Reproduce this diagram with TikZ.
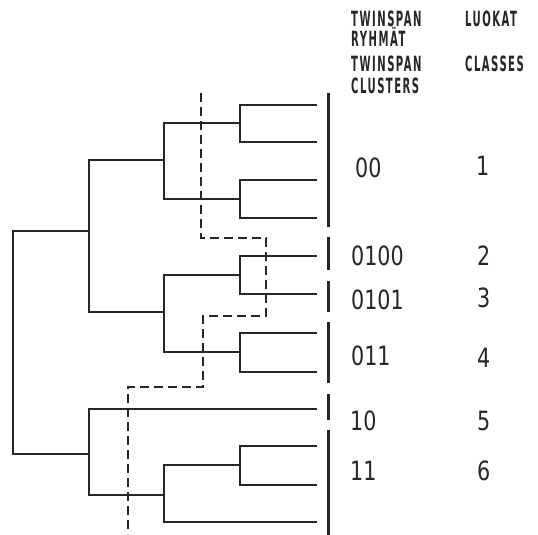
\documentclass[tikz,border=0pt]{standalone}
\usepackage{fontspec}
\newfontfamily\digitfont[FakeStretch=0.78]{DejaVu Sans}
\newfontfamily\headfont[FakeStretch=0.48,LetterSpace=7]{DejaVu Sans}
\definecolor{ink}{RGB}{38,38,38}
\tikzset{
  tree/.style={draw=ink, line width=2.4pt, line join=miter},
  cut/.style={draw=ink, line width=2.2pt, dash pattern=on 9pt off 5pt},
  bar/.style={draw=ink, line width=3pt},
  lab/.style={anchor=base west, inner sep=0pt, text=ink, font=\digitfont\fontsize{26.5}{26.5}\selectfont},
  head/.style={anchor=base west, inner sep=0pt, text=ink, font=\headfont\bfseries\fontsize{21}{21}\selectfont},
}
\begin{document}
\begin{tikzpicture}[x=1pt,y=-1pt]
\useasboundingbox (0,0) rectangle (538,535);
% leaves
\coordinate (L1) at (317,105);
\coordinate (L2) at (317,142);
\coordinate (L3) at (317,180);
\coordinate (L4) at (317,218);
\coordinate (L5) at (317,256);
\coordinate (L6) at (317,294);
\coordinate (L7) at (317,333);
\coordinate (L8) at (317,372);
\coordinate (L9) at (317,409);
\coordinate (L10) at (317,446);
\coordinate (L11) at (317,485);
\coordinate (L12) at (317,522);
% internal nodes
\coordinate (P1) at (240,123);
\coordinate (P2) at (240,199);
\coordinate (P3) at (240,275);
\coordinate (P4) at (240,352);
\coordinate (P5) at (240,465);
\coordinate (Q1) at (164,160);
\coordinate (Q2) at (164,312);
\coordinate (Q3) at (164,495);
\coordinate (R1) at (89,231);
\coordinate (R2) at (89,454);
\coordinate (Root) at (13,340);
% tree
\draw[tree] (L1) -| (P1) |- (L2);
\draw[tree] (L3) -| (P2) |- (L4);
\draw[tree] (L5) -| (P3) |- (L6);
\draw[tree] (L7) -| (P4) |- (L8);
\draw[tree] (L10) -| (P5) |- (L11);
\draw[tree] (P1) -| (Q1) |- (P2);
\draw[tree] (P3) -| (Q2) |- (P4);
\draw[tree] (P5) -| (Q3) |- (L12);
\draw[tree] (Q1) -| (R1) |- (Q2);
\draw[tree] (L9) -| (R2) |- (Q3);
\draw[tree] (R1) -| (Root) |- (R2);
% dashed cut line
\coordinate (D0) at (201,93);
\coordinate (D1) at (201,238);
\coordinate (D2) at (266,238);
\coordinate (D3) at (266,316);
\coordinate (D4) at (203,316);
\coordinate (D5) at (203,387);
\coordinate (D6) at (128,387);
\coordinate (D7) at (128,534);
\draw[cut] (D0) -- (D1) -- (D2) -- (D3) -- (D4) -- (D5) -- (D6) -- (D7);
% bars
\coordinate (B1a) at (328,93);  \coordinate (B1b) at (328,227);
\coordinate (B2a) at (328,237); \coordinate (B2b) at (328,270);
\coordinate (B3a) at (328,281); \coordinate (B3b) at (328,312);
\coordinate (B4a) at (328,322); \coordinate (B4b) at (328,383);
\coordinate (B5a) at (328,394); \coordinate (B5b) at (328,420);
\coordinate (B6a) at (328,430); \coordinate (B6b) at (328,535);
\draw[bar] (B1a) -- (B1b);
\draw[bar] (B2a) -- (B2b);
\draw[bar] (B3a) -- (B3b);
\draw[bar] (B4a) -- (B4b);
\draw[bar] (B5a) -- (B5b);
\draw[bar] (B6a) -- (B6b);
% headers
\node[head] (h1) at (351,27) {TWINSPAN};
\node[head] (h2) at (351,47) {RYHMÄT};
\node[head] (h3) at (351,72) {TWINSPAN};
\node[head] (h4) at (351,93) {CLUSTERS};
\node[head] (h5) at (465,27) {LUOKAT};
\node[head] (h6) at (465,72) {CLASSES};
% cluster labels
\node[lab] (c1) at (355,177) {00};
\node[lab] (c2) at (351,265) {0100};
\node[lab] (c3) at (351,309) {0101};
\node[lab] (c4) at (351,365) {011};
\node[lab] (c5) at (350,430) {10};
\node[lab] (c6) at (350,480) {11};
% class labels
\node[lab] (k1) at (476,175) {1};
\node[lab] (k2) at (477,265) {2};
\node[lab] (k3) at (477,307) {3};
\node[lab] (k4) at (477,367) {4};
\node[lab] (k5) at (477,430) {5};
\node[lab] (k6) at (477,480) {6};
\end{tikzpicture}
\end{document}
